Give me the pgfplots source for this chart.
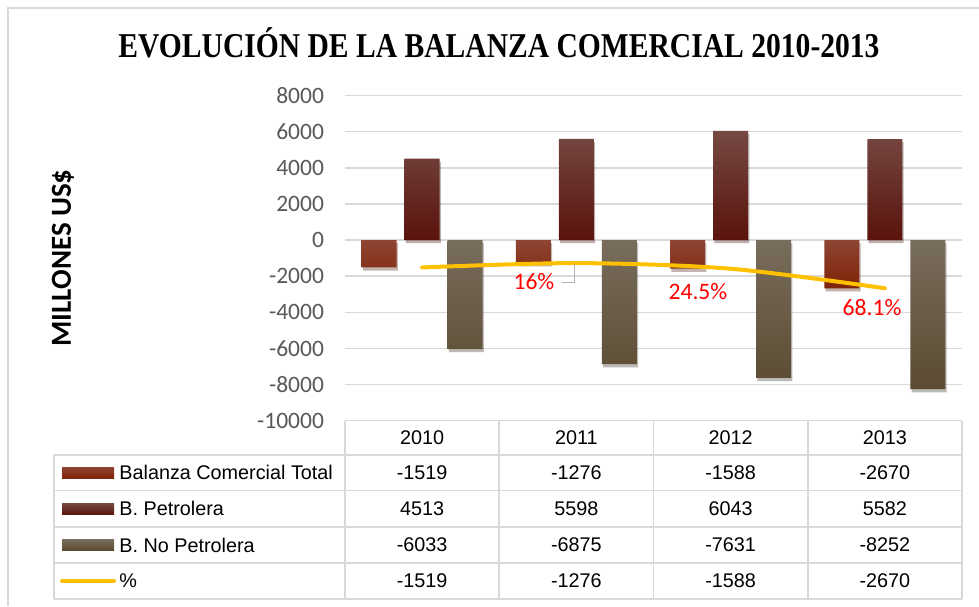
\documentclass[border=0pt]{standalone}
\usepackage{pgfplots}
\pgfplotsset{compat=1.18}
\usepackage{pgfplotstable}
\usetikzlibrary{shadows}
\usepackage{fontspec}
\setmainfont{Liberation Sans}
\newfontfamily\carlito{Carlito}
\newfontfamily\tnr{Liberation Serif}

\definecolor{gridgray}{HTML}{D9D9D9}
\definecolor{ticktxt}{HTML}{595959}
\definecolor{totTop}{HTML}{8E4533}
\definecolor{totBot}{HTML}{7E2306}
\definecolor{petTop}{HTML}{754943}
\definecolor{petBot}{HTML}{5A130C}
\definecolor{npTop}{HTML}{786C5C}
\definecolor{npBot}{HTML}{5B4B31}
\definecolor{linea}{HTML}{FFC000}

% balanza comercial, millones US$
\pgfplotstableread{
x year total petro nopetro pct
0 2010 -1519 4513 -6033 -1519
1 2011 -1276 5598 -6875 -1276
2 2012 -1588 6043 -7631 -1588
3 2013 -2670 5582 -8252 -2670
}\datos

\tikzset{barshadow/.style={drop shadow={shadow xshift=0.6pt, shadow yshift=-1.6pt, opacity=0.18, fill=black}}}

\begin{document}
\begin{tikzpicture}
\path[use as bounding box] (0,0) rectangle (489.5pt,303pt);
\draw[gridgray, line width=0.75pt] (4pt,0) -- (4pt,299pt) -- (489.5pt,299pt);

\node[font=\tnr\bfseries\fontsize{17.4}{20}\selectfont, anchor=base] at (249.5pt,274pt)
  {\scalebox{0.85}[1]{EVOLUCIÓN DE LA BALANZA COMERCIAL 2010-2013}};
\node[rotate=90, font=\carlito\bfseries\fontsize{14.5}{16}\selectfont] at (31.5pt,174pt)
  {MILLONES US\$};

\begin{axis}[
  at={(172.5pt,92.65pt)}, anchor=south west,
  width=308.5pt, height=162.6pt, scale only axis,
  xmin=-0.5, xmax=3.5, ymin=-10000, ymax=8000,
  ytick distance=2000,
  scaled y ticks=false,
  xtick={0,1,2,3},
  xticklabels from table={\datos}{year},
  xticklabel style={anchor=center, yshift=-8.35pt, font=\fontsize{9.9}{11}\selectfont},
  yticklabel style={anchor=east, xshift=-7pt, text=ticktxt, font=\carlito\fontsize{11.75}{13}\selectfont},
  /pgf/number format/assume math mode=true,
  /pgf/number format/1000 sep={},
  ymajorgrids, grid style={gridgray, line width=0.75pt},
  axis line style={draw=none},
  tick style={draw=none},
]
\addplot[ybar, bar width=17.5pt, bar shift=-21.5pt, draw=none, barshadow, top color=totTop, bottom color=totBot]
  table[x=x, y=total]{\datos};
\addplot[ybar, bar width=17.5pt, bar shift=0pt, draw=none, barshadow, top color=petTop, bottom color=petBot]
  table[x=x, y=petro]{\datos};
\addplot[ybar, bar width=17.5pt, bar shift=21.5pt, draw=none, barshadow, top color=npTop, bottom color=npBot]
  table[x=x, y=nopetro]{\datos};
\addplot[linea, line width=2pt, smooth, tension=0.5, line cap=round, no marks]
  table[x=x, y=pct]{\datos};

\draw[gray!60, line width=0.5pt] (axis cs:0.907,-2324) -- (axis cs:0.99,-2324) -- (axis cs:0.99,-1330);
\node[text=red, font=\carlito\fontsize{11.8}{13}\selectfont] at (axis cs:0.725,-2324) {16\%};
\node[text=red, font=\carlito\fontsize{11.8}{13}\selectfont] at (axis cs:1.788,-2877) {24.5\%};
\node[text=red, font=\carlito\fontsize{11.8}{13}\selectfont] at (axis cs:2.917,-3763) {68.1\%};
\end{axis}

% tabla de datos
\begin{scope}[gridgray, line width=0.75pt]
\draw (172.5pt,92.65pt) -- (481pt,92.65pt);
\foreach \yy in {75.5,57.65,39.5,21.5,3.5} \draw (27pt,\yy pt) -- (481pt,\yy pt);
\draw (27pt,75.5pt) -- (27pt,3.5pt);
\foreach \xx in {172.5,249.6,326.7,403.9,481} \draw (\xx pt,92.65pt) -- (\xx pt,3.5pt);
\end{scope}

\foreach \c [count=\r from 0] in {total,petro,nopetro,pct} {
  \foreach \i in {0,...,3} {
    \pgfplotstablegetelem{\i}{\c}\of\datos
    \node[font=\fontsize{9.9}{11}\selectfont] at ({211.06pt+77.125pt*\i},{66.55pt-18pt*\r}) {\pgfplotsretval};
  }
}

\shade[top color=totTop, bottom color=totBot] (31pt,63.8pt) rectangle (57pt,69.3pt);
\shade[top color=petTop, bottom color=petBot] (31pt,45.8pt) rectangle (57pt,51.3pt);
\shade[top color=npTop, bottom color=npBot] (31pt,27.75pt) rectangle (57pt,33.25pt);
\draw[linea, line width=2pt, line cap=round] (31pt,12.5pt) -- (57pt,12.5pt);

\begin{scope}[every node/.style={anchor=west, inner sep=0pt, font=\fontsize{9.9}{11}\selectfont}]
\node at (59.5pt,66.55pt) {Balanza Comercial Total};
\node at (59.5pt,48.55pt) {B. Petrolera};
\node at (59.5pt,30.5pt) {B. No Petrolera};
\node at (59.5pt,12.5pt) {\%};
\end{scope}
\end{tikzpicture}
\end{document}
